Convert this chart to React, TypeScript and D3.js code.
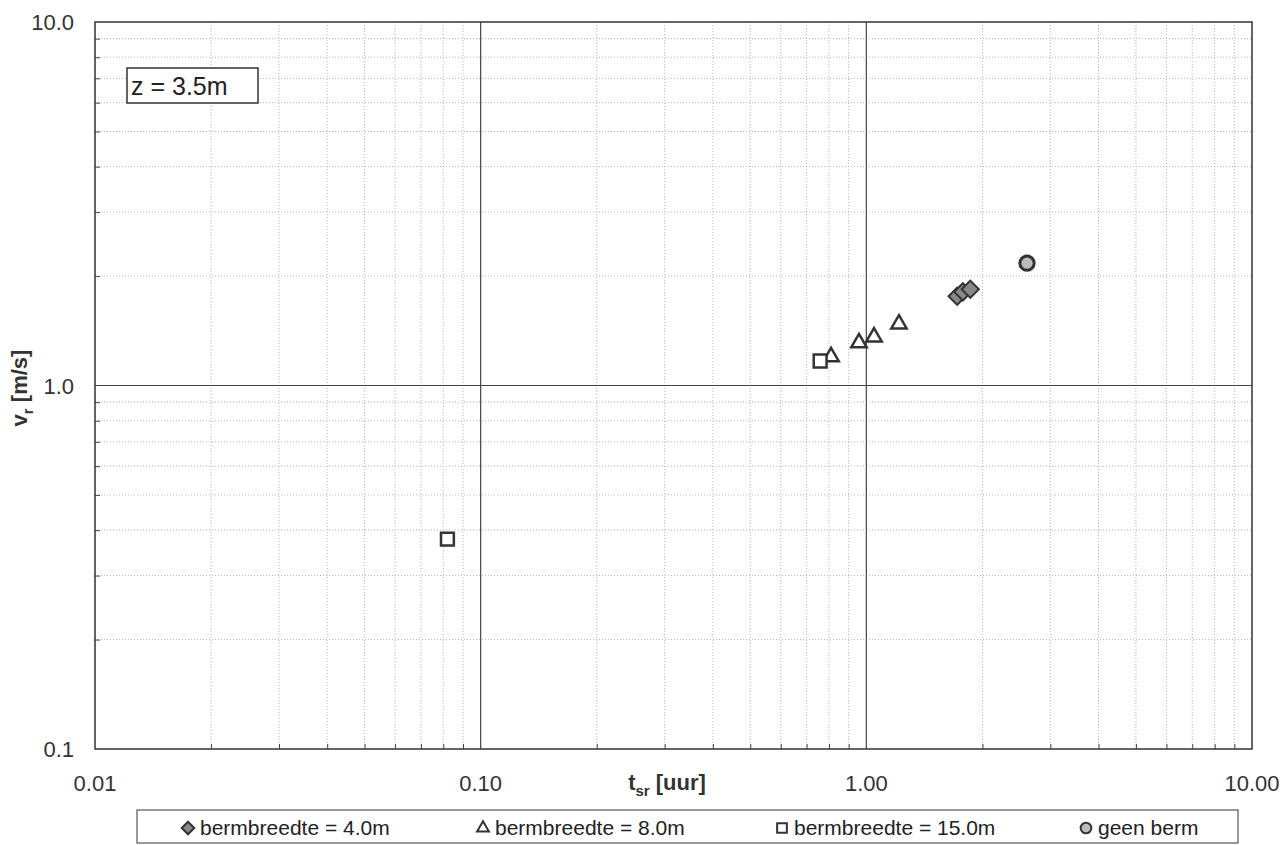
import React, { useEffect, useRef } from "react";
import * as d3 from "d3";

// t_sr [uur] vs v_r [m/s], z = 3.5m
const berm4X = [1.72, 1.78, 1.86];
const berm4Y = [1.76, 1.81, 1.84];
const berm8X = [0.81, 0.957, 1.047, 1.215];
const berm8Y = [1.2, 1.31, 1.36, 1.476];
const berm15X = [0.082, 0.759];
const berm15Y = [0.378, 1.168];
const geenX = [2.61];
const geenY = [2.17];

const xTicks = [0.01, 0.1, 1, 10];
const xTickLabels = ["0.01", "0.10", "1.00", "10.00"];
const yTicks = [0.1, 1, 10];
const yTickLabels = ["0.1", "1.0", "10.0"];
const legendLabels = [
  "bermbreedte = 4.0m",
  "bermbreedte = 8.0m",
  "bermbreedte = 15.0m",
  "geen berm",
];

const App = () => {
  const svgRef = useRef<SVGSVGElement>(null);

  useEffect(() => {
    const w = 1285;
    const h = 845;
    const left = 95;
    const right = 1252;
    const top = 22;
    const bottom = 749;
    const font = "'Liberation Sans', Arial, sans-serif";

    const svg = d3.select(svgRef.current).attr("width", w).attr("height", h);
    svg.selectAll("*").remove();
    svg.append("rect").attr("width", w).attr("height", h).attr("fill", "#fff");

    const xScale = d3.scaleLog().domain([0.01, 10]).range([left, right]);
    const yScale = d3.scaleLog().domain([0.1, 10]).range([bottom, top]);

    // minor values
    const minorX: number[] = [];
    [0.01, 0.1, 1].forEach((d) => {
      for (let i = 2; i <= 9; i++) minorX.push(d * i);
    });
    const minorY: number[] = [];
    [0.1, 1].forEach((d) => {
      for (let i = 2; i <= 9; i++) minorY.push(d * i);
    });

    const grid = svg.append("g");
    grid
      .selectAll("line.mx")
      .data(minorX)
      .join("line")
      .attr("x1", (d) => xScale(d))
      .attr("x2", (d) => xScale(d))
      .attr("y1", top)
      .attr("y2", bottom)
      .attr("stroke", "#b5b5b5")
      .attr("stroke-width", 1)
      .attr("stroke-dasharray", "1,2");
    grid
      .selectAll("line.my")
      .data(minorY)
      .join("line")
      .attr("x1", left)
      .attr("x2", right)
      .attr("y1", (d) => yScale(d))
      .attr("y2", (d) => yScale(d))
      .attr("stroke", "#b5b5b5")
      .attr("stroke-width", 1)
      .attr("stroke-dasharray", "1,2");

    // major lines
    svg
      .append("g")
      .selectAll("line")
      .data([0.1, 1])
      .join("line")
      .attr("x1", (d) => xScale(d))
      .attr("x2", (d) => xScale(d))
      .attr("y1", top)
      .attr("y2", bottom)
      .attr("stroke", "#444")
      .attr("stroke-width", 1.2);
    svg
      .append("line")
      .attr("x1", left)
      .attr("x2", right)
      .attr("y1", yScale(1))
      .attr("y2", yScale(1))
      .attr("stroke", "#444")
      .attr("stroke-width", 1.2);

    // axes with inward minor ticks
    const xAxis = d3
      .axisBottom(xScale)
      .tickValues(minorX)
      .tickSize(-5)
      .tickFormat(() => "");
    const gx = svg.append("g").attr("transform", `translate(0,${bottom})`).call(xAxis);
    gx.select(".domain").remove();
    gx.selectAll("line").attr("stroke", "#444");

    const yAxis = d3
      .axisLeft(yScale)
      .tickValues(minorY)
      .tickSize(-5)
      .tickFormat(() => "");
    const gy = svg.append("g").attr("transform", `translate(${left},0)`).call(yAxis);
    gy.select(".domain").remove();
    gy.selectAll("line").attr("stroke", "#444");

    // frame
    svg
      .append("rect")
      .attr("x", left)
      .attr("y", top)
      .attr("width", right - left)
      .attr("height", bottom - top)
      .attr("fill", "none")
      .attr("stroke", "#333")
      .attr("stroke-width", 1.5);

    // tick labels
    svg
      .append("g")
      .selectAll("text")
      .data(xTicks)
      .join("text")
      .attr("x", (d) => xScale(d))
      .attr("y", 791)
      .attr("text-anchor", "middle")
      .attr("font-family", font)
      .attr("font-size", 22)
      .attr("fill", "#333")
      .text((d, i) => xTickLabels[i]);
    svg
      .append("g")
      .selectAll("text")
      .data(yTicks)
      .join("text")
      .attr("x", 74)
      .attr("y", (d) => yScale(d) + 8)
      .attr("text-anchor", "end")
      .attr("font-family", font)
      .attr("font-size", 22)
      .attr("fill", "#333")
      .text((d, i) => yTickLabels[i]);

    // axis titles
    const xt = svg
      .append("text")
      .attr("x", 667)
      .attr("y", 790)
      .attr("text-anchor", "middle")
      .attr("font-family", font)
      .attr("font-size", 22)
      .attr("font-weight", "bold")
      .attr("fill", "#333");
    xt.append("tspan").text("t");
    xt.append("tspan").attr("font-size", 15).attr("dy", 6).text("sr");
    xt.append("tspan").attr("dy", -6).text(" [uur]");

    const yt = svg
      .append("text")
      .attr("transform", `translate(27,388) rotate(-90)`)
      .attr("text-anchor", "middle")
      .attr("font-family", font)
      .attr("font-size", 22)
      .attr("font-weight", "bold")
      .attr("fill", "#333");
    yt.append("tspan").text("v");
    yt.append("tspan").attr("font-size", 15).attr("dy", 6).text("r");
    yt.append("tspan").attr("dy", -6).text(" [m/s]");

    // z label box
    svg
      .append("rect")
      .attr("x", 127)
      .attr("y", 68)
      .attr("width", 131)
      .attr("height", 35)
      .attr("fill", "#fff")
      .attr("stroke", "#333")
      .attr("stroke-width", 1.5);
    svg
      .append("text")
      .attr("x", 131)
      .attr("y", 95)
      .attr("font-family", font)
      .attr("font-size", 25)
      .attr("fill", "#222")
      .text("z = 3.5m");

    // markers
    const diamond = d3.symbol().type(d3.symbolDiamond2).size(190);
    const triangle = d3.symbol().type(d3.symbolTriangle2).size(170);
    const square = d3.symbol().type(d3.symbolSquare2).size(210);
    const circle = d3.symbol().type(d3.symbolCircle).size(160);

    const series = [
      { xs: berm4X, ys: berm4Y, sym: diamond, fill: "#888", sw: 2 },
      { xs: berm8X, ys: berm8Y, sym: triangle, fill: "#fff", sw: 2.5 },
      { xs: berm15X, ys: berm15Y, sym: square, fill: "#fff", sw: 2.5 },
      { xs: geenX, ys: geenY, sym: circle, fill: "#bbb", sw: 3 },
    ];
    series.forEach((s) => {
      svg
        .append("g")
        .selectAll("path")
        .data(s.xs.map((x, i) => [x, s.ys[i]]))
        .join("path")
        .attr("transform", (d) => `translate(${xScale(d[0])},${yScale(d[1])})`)
        .attr("d", s.sym)
        .attr("fill", s.fill)
        .attr("stroke", "#333")
        .attr("stroke-width", s.sw);
    });

    // legend
    svg
      .append("rect")
      .attr("x", 137)
      .attr("y", 810)
      .attr("width", 1101)
      .attr("height", 33)
      .attr("fill", "#fff")
      .attr("stroke", "#555")
      .attr("stroke-width", 1.2);
    const legendX = [188, 483, 782, 1086];
    const legendSyms = [
      d3.symbol().type(d3.symbolDiamond2).size(100),
      d3.symbol().type(d3.symbolTriangle2).size(100),
      d3.symbol().type(d3.symbolSquare2).size(120),
      d3.symbol().type(d3.symbolCircle).size(90),
    ];
    legendLabels.forEach((label, i) => {
      const g = svg.append("g").attr("transform", `translate(${legendX[i]},828)`);
      g.append("path")
        .attr("d", legendSyms[i])
        .attr("fill", series[i].fill)
        .attr("stroke", "#333")
        .attr("stroke-width", 2);
      g.append("text")
        .attr("x", 12)
        .attr("y", 7)
        .attr("font-family", font)
        .attr("font-size", 21)
        .attr("fill", "#222")
        .text(label);
    });
  }, []);

  return (
    <div style={{ position: "absolute", left: 0, top: 0 }}>
      <svg ref={svgRef} style={{ display: "block" }}></svg>
    </div>
  );
};

export default App;
